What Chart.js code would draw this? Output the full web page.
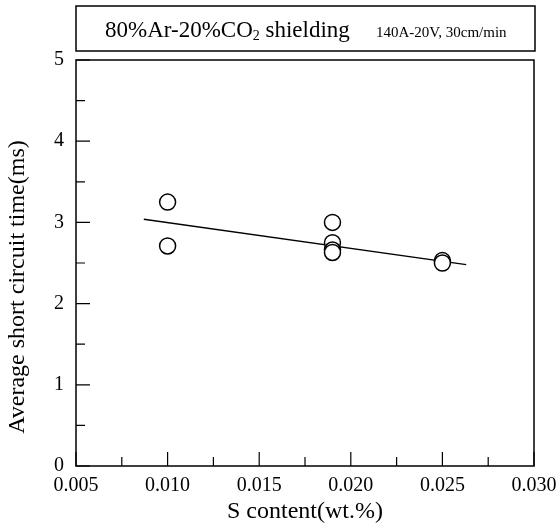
<!DOCTYPE html>
<html>
<head>
<meta charset="utf-8">
<script src="https://cdn.jsdelivr.net/npm/chart.js@4.4.1/dist/chart.umd.min.js"></script>
<style>
  html, body { margin: 0; padding: 0; background: #fff; }
  canvas { display: block; }
</style>
</head>
<body>
<canvas id="chart" width="560" height="526"></canvas>
<script>
// measured points
const sContent = [0.010, 0.010, 0.019, 0.019, 0.019, 0.019, 0.025, 0.025];
const shortCircuitTime = [3.25, 2.71, 3.00, 2.75, 2.66, 2.63, 2.53, 2.50];

// fitted trend line end points
const fitS = [0.0087, 0.0263];
const fitTime = [3.04, 2.48];

// axis ticks
const xMajor = [0.005, 0.010, 0.015, 0.020, 0.025, 0.030];
const xMinor = [0.0075, 0.0125, 0.0175, 0.0225, 0.0275];
const yMajor = [0, 1, 2, 3, 4, 5];
const yMinor = [0.5, 1.5, 2.5, 3.5, 4.5];

const titleMain = '80%Ar-20%CO';
const titleSub = '2';
const titleTail = ' shielding';
const titleNote = '140A-20V, 30cm/min';
const yTitle = 'Average short circuit time(ms)';

const serif = '"Liberation Serif", "DejaVu Serif", serif';

const points = sContent.map((s, i) => ({ x: s, y: shortCircuitTime[i] }));
const fitLine = fitS.map((s, i) => ({ x: s, y: fitTime[i] }));

// frame, inward ticks, y title and the heading box
const framePlugin = {
    id: 'frame',
    afterDraw(chart) {
        const ctx = chart.ctx;
        const area = chart.chartArea;
        const xs = chart.scales.x;
        const ys = chart.scales.y;
        ctx.save();
        ctx.strokeStyle = '#000';
        ctx.lineWidth = 1.5;
        ctx.strokeRect(area.left, area.top, area.right - area.left, area.bottom - area.top);

        ctx.lineWidth = 1.2;
        ctx.beginPath();
        xMajor.forEach(v => {
            const px = xs.getPixelForValue(v);
            ctx.moveTo(px, area.bottom);
            ctx.lineTo(px, area.bottom - 14);
        });
        xMinor.forEach(v => {
            const px = xs.getPixelForValue(v);
            ctx.moveTo(px, area.bottom);
            ctx.lineTo(px, area.bottom - 9);
        });
        yMajor.forEach(v => {
            const py = ys.getPixelForValue(v);
            ctx.moveTo(area.left, py);
            ctx.lineTo(area.left + 14, py);
        });
        yMinor.forEach(v => {
            const py = ys.getPixelForValue(v);
            ctx.moveTo(area.left, py);
            ctx.lineTo(area.left + 9, py);
        });
        ctx.stroke();

        ctx.fillStyle = '#000';

        // rotated y axis title, sitting a little below the middle
        ctx.save();
        ctx.translate(18, 287);
        ctx.rotate(-Math.PI / 2);
        ctx.font = '24px ' + serif;
        ctx.textAlign = 'center';
        ctx.textBaseline = 'middle';
        ctx.fillText(yTitle, 0, 0);
        ctx.restore();

        // heading box above the plot
        ctx.lineWidth = 1.5;
        ctx.strokeRect(area.left, 6, area.right - area.left + 1, 45);
        ctx.textBaseline = 'alphabetic';
        ctx.textAlign = 'left';
        let x = 105;
        const base = 37;
        ctx.font = '23px ' + serif;
        ctx.fillText(titleMain, x, base);
        x += ctx.measureText(titleMain).width;
        ctx.font = '14px ' + serif;
        ctx.fillText(titleSub, x, base + 3);
        x += ctx.measureText(titleSub).width;
        ctx.font = '23px ' + serif;
        ctx.fillText(titleTail, x, base);
        ctx.font = '15px ' + serif;
        ctx.fillText(titleNote, 376, base);
        ctx.restore();
    }
};

new Chart(document.getElementById('chart'), {
    type: 'scatter',
    data: {
        datasets: [
            {
                type: 'line',
                data: fitLine,
                borderColor: '#000',
                borderWidth: 1.5,
                pointRadius: 0,
                fill: false,
                order: 2
            },
            {
                data: points,
                pointRadius: 8,
                pointBorderWidth: 1.5,
                pointBorderColor: '#000',
                pointBackgroundColor: '#fff',
                order: 1
            }
        ]
    },
    options: {
        responsive: false,
        animation: false,
        layout: { padding: { top: 60, right: 26, left: 0, bottom: 0 } },
        plugins: {
            legend: { display: false },
            tooltip: { enabled: false }
        },
        scales: {
            x: {
                type: 'linear',
                min: 0.005,
                max: 0.030,
                grid: { display: false, drawTicks: false },
                border: { display: false },
                afterFit: scale => {
                    scale.height = 60;
                    // let the last label hang into the right margin
                    scale.paddingLeft = 0;
                    scale.paddingRight = 0;
                },
                afterBuildTicks: scale => { scale.ticks = xMajor.map(v => ({ value: v })); },
                ticks: {
                    color: '#000',
                    padding: 8,
                    maxRotation: 0,
                    font: { family: serif, size: 20 },
                    callback: v => v.toFixed(3)
                },
                title: {
                    display: true,
                    text: 'S content(wt.%)',
                    color: '#000',
                    font: { family: serif, size: 24 },
                    padding: { top: 0, bottom: 0 }
                }
            },
            y: {
                type: 'linear',
                min: 0,
                max: 5,
                grid: { display: false, drawTicks: false },
                border: { display: false },
                afterFit: scale => { scale.width = 76; },
                afterBuildTicks: scale => { scale.ticks = yMajor.map(v => ({ value: v })); },
                ticks: {
                    color: '#000',
                    padding: 12,
                    font: { family: serif, size: 20 }
                },
                title: { display: false }
            }
        }
    },
    plugins: [framePlugin]
});
</script>
</body>
</html>
